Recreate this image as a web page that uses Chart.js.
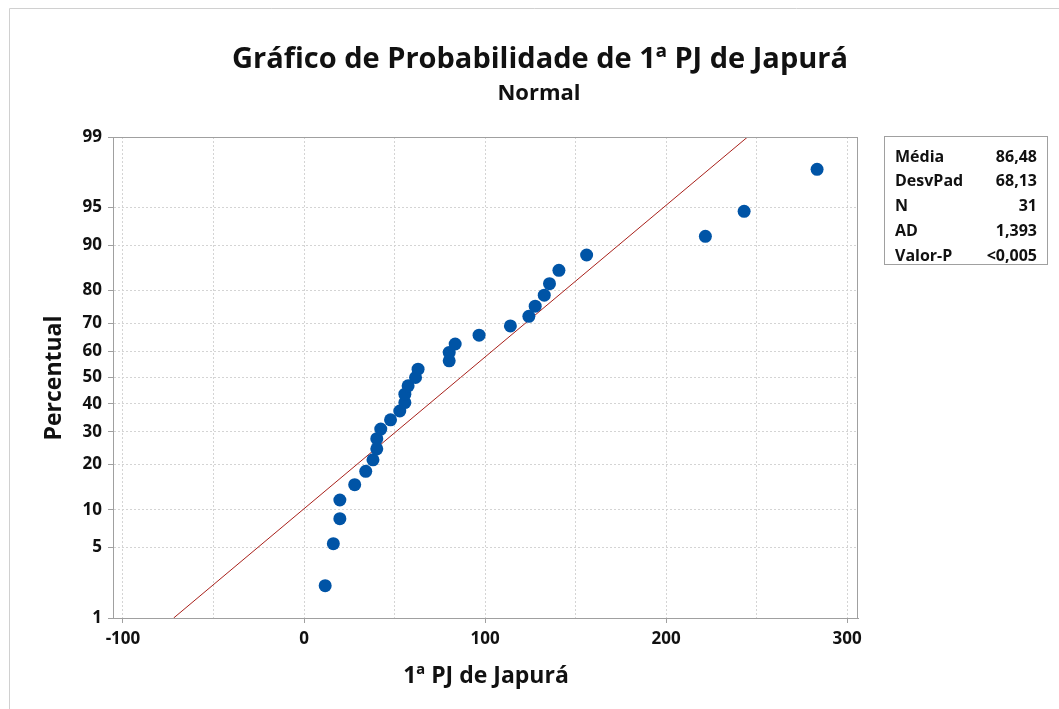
<!DOCTYPE html>
<html>
<head>
<meta charset="utf-8">
<script src="https://cdn.jsdelivr.net/npm/chart.js@4/dist/chart.umd.min.js"></script>
<style>
  html, body { margin: 0; padding: 0; background: #fff; }
</style>
</head>
<body>
<canvas id="myChart" width="1059" height="709"></canvas>
<script>
// sample values (1ª PJ de Japurá), sorted
var values = [11.7, 16.2, 19.8, 19.8, 28.0, 34.1, 38.1, 40.2, 40.2, 42.4,
              47.8, 52.9, 55.7, 55.7, 57.5, 61.6, 63.0, 80.2, 80.2, 83.5,
              96.7, 114.0, 124.2, 127.7, 132.7, 135.6, 140.8, 156.1, 221.7, 243.1, 283.4];
// plotted percent for each point
var percents = [2.2, 5.4, 8.6, 11.8, 15.0, 18.2, 21.3, 24.5, 27.7, 30.9,
                34.1, 37.3, 40.4, 43.6, 46.8, 50.0, 53.2, 56.4, 59.6, 62.7,
                65.9, 69.1, 72.3, 75.5, 78.7, 81.8, 85.0, 88.2, 91.4, 94.6, 97.8];
// fitted normal line end points
var fitValues = [-72.0, 245.0];
var fitPercents = [1, 99];

var percentTicks = [1, 5, 10, 20, 30, 40, 50, 60, 70, 80, 90, 95, 99];
var xGridTicks = [-100, -50, 0, 50, 100, 150, 200, 250, 300];
var xLabelStep = 100;

var statLabels = ['Média', 'DesvPad', 'N', 'AD', 'Valor-P'];
var statValues = ['86,48', '68,13', '31', '1,393', '<0,005'];

var FONT = '"Open Sans", "Noto Sans", sans-serif';

// inverse of the normal cdf, used for the probability axis
function probit(p) {
  var a = [-3.969683028665376e+01, 2.209460984245205e+02, -2.759285104469687e+02, 1.383577518672690e+02, -3.066479806614716e+01, 2.506628277459239e+00];
  var b = [-5.447609879822406e+01, 1.615858368580409e+02, -1.556989798598866e+02, 6.680131188771720e+01, -1.328068155288572e+01];
  var c = [-7.784894002430293e-03, -3.223964580411365e-01, -2.400758277161838e+00, -2.549732539343734e+00, 4.374664141464968e+00, 2.938163982698783e+00];
  var d = [7.784695709041462e-03, 3.224671290700398e-01, 2.445134137142996e+00, 3.754408661907416e+00];
  var pl = 0.02425, q, r;
  if (p < pl) {
    q = Math.sqrt(-2 * Math.log(p));
    return (((((c[0]*q+c[1])*q+c[2])*q+c[3])*q+c[4])*q+c[5]) / ((((d[0]*q+d[1])*q+d[2])*q+d[3])*q+1);
  }
  if (p > 1 - pl) {
    q = Math.sqrt(-2 * Math.log(1 - p));
    return -(((((c[0]*q+c[1])*q+c[2])*q+c[3])*q+c[4])*q+c[5]) / ((((d[0]*q+d[1])*q+d[2])*q+d[3])*q+1);
  }
  q = p - 0.5; r = q * q;
  return (((((a[0]*r+a[1])*r+a[2])*r+a[3])*r+a[4])*r+a[5])*q / (((((b[0]*r+b[1])*r+b[2])*r+b[3])*r+b[4])*r+1);
}

var points = values.map(function(v, i) { return { x: v, y: probit(percents[i] / 100) }; });
var fitLine = fitValues.map(function(v, i) { return { x: v, y: probit(fitPercents[i] / 100) }; });

// titles, frame and stats box
var decorations = {
  id: 'decorations',
  beforeDraw: function(chart) {
    var ctx = chart.ctx;
    ctx.save();
    ctx.fillStyle = '#fff';
    ctx.fillRect(0, 0, chart.width, chart.height);
    ctx.strokeStyle = '#d0d0d0';
    ctx.lineWidth = 1;
    ctx.beginPath();
    ctx.moveTo(9.5, chart.height);
    ctx.lineTo(9.5, 8.5);
    ctx.lineTo(chart.width, 8.5);
    ctx.stroke();
    ctx.restore();
  },
  afterDraw: function(chart) {
    var ctx = chart.ctx, a = chart.chartArea;
    ctx.save();
    // plot frame
    ctx.strokeStyle = '#a0a0a0';
    ctx.lineWidth = 1;
    ctx.strokeRect(Math.round(a.left) + 0.5, Math.round(a.top) + 0.5, Math.round(a.right - a.left) - 1, Math.round(a.bottom - a.top));

    ctx.fillStyle = '#111';
    ctx.textAlign = 'center';
    ctx.textBaseline = 'middle';
    ctx.font = 'bold 29px ' + FONT;
    ctx.fillText('Gráfico de Probabilidade de 1ª PJ de Japurá', 540, 60);
    ctx.font = 'bold 22px ' + FONT;
    ctx.fillText('Normal', 539, 94);

    ctx.font = 'bold 23px ' + FONT;
    ctx.fillText('1ª PJ de Japurá', 486, 676);
    ctx.save();
    ctx.translate(54, 378);
    ctx.rotate(-Math.PI / 2);
    ctx.fillText('Percentual', 0, 0);
    ctx.restore();

    // stats box
    ctx.strokeStyle = '#a0a0a0';
    ctx.strokeRect(884.5, 136.5, 163, 128);
    ctx.font = 'bold 16px ' + FONT;
    for (var i = 0; i < statLabels.length; i++) {
      var y = 157 + i * 24.8;
      ctx.textAlign = 'left';
      ctx.fillText(statLabels[i], 895, y);
      ctx.textAlign = 'right';
      ctx.fillText(statValues[i], 1037, y);
    }
    ctx.restore();
  }
};

var ctx = document.getElementById('myChart').getContext('2d');
var myChart = new Chart(ctx, {
  type: 'scatter',
  data: {
    datasets: [{
      label: 'Dados',
      data: points,
      backgroundColor: '#0054a6',
      borderColor: '#0054a6',
      pointRadius: 6.5,
      pointBorderWidth: 0,
      order: 0
    }, {
      label: 'Ajuste',
      data: fitLine,
      showLine: true,
      borderColor: '#a8201a',
      borderWidth: 1,
      pointRadius: 0,
      order: 1
    }]
  },
  plugins: [decorations],
  options: {
    responsive: false,
    animation: false,
    layout: { padding: { left: 0, right: 201, top: 137, bottom: 0 } },
    plugins: {
      legend: { display: false },
      tooltip: { enabled: false },
      title: { display: false }
    },
    scales: {
      x: {
        type: 'linear',
        min: -105.5,
        max: 306,
        afterFit: function(scale) { scale.height = 91; },
        afterBuildTicks: function(scale) {
          scale.ticks = xGridTicks.map(function(v) { return { value: v }; });
        },
        ticks: {
          autoSkip: false,
          maxRotation: 0,
          padding: 6,
          color: '#111',
          font: { family: FONT, size: 17, weight: 'bold' },
          callback: function(v) { return v % xLabelStep === 0 ? String(v) : ''; }
        },
        grid: {
          color: '#d4d4d4',
          tickLength: 5,
          tickColor: function(c) { return c.tick && c.tick.value % xLabelStep === 0 ? '#a0a0a0' : 'rgba(0,0,0,0)'; }
        },
        border: { color: '#a0a0a0', dash: [2, 2] }
      },
      y: {
        type: 'linear',
        min: probit(0.01),
        max: probit(0.99),
        afterFit: function(scale) { scale.width = 113; },
        afterBuildTicks: function(scale) {
          scale.ticks = percentTicks.map(function(p) { return { value: probit(p / 100) }; });
        },
        ticks: {
          autoSkip: false,
          padding: 6,
          color: '#111',
          font: { family: FONT, size: 17, weight: 'bold' },
          callback: function(v, i) { return String(percentTicks[i]); }
        },
        grid: { color: '#d4d4d4', tickLength: 5, tickColor: '#a0a0a0' },
        border: { color: '#a0a0a0', dash: [2, 2] }
      }
    }
  }
});
</script>
</body>
</html>
